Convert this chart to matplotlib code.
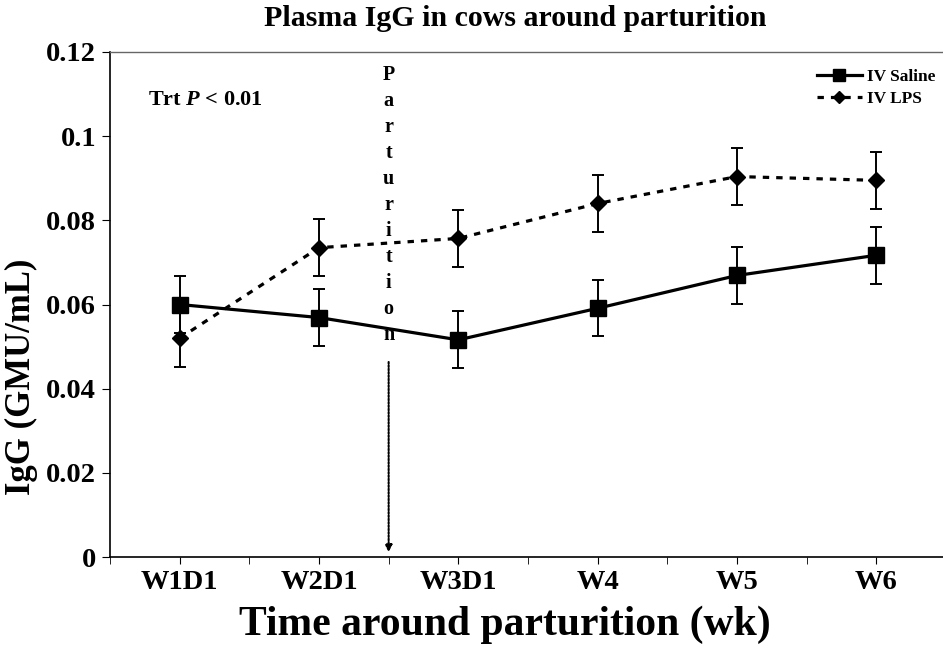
import matplotlib
matplotlib.use("Agg")
import matplotlib.pyplot as plt
from matplotlib import rcParams
from matplotlib.lines import Line2D

rcParams['font.family'] = ['Liberation Serif', 'DejaVu Serif']
rcParams['font.weight'] = 'bold'
rcParams['mathtext.fontset'] = 'custom'
rcParams['mathtext.rm'] = 'Liberation Serif:bold'
rcParams['mathtext.it'] = 'Liberation Serif:italic:bold'
rcParams['mathtext.bf'] = 'Liberation Serif:bold'

# data
weeks = ['W1D1', 'W2D1', 'W3D1', 'W4', 'W5', 'W6']
saline = [0.0600, 0.0569, 0.0516, 0.0591, 0.0669, 0.0717]
saline_se = [0.0068, 0.0067, 0.0068, 0.0067, 0.0068, 0.0068]
lps = [0.0520, 0.0735, 0.0757, 0.0840, 0.0904, 0.0895]
lps_se = [0.0068, 0.0067, 0.0067, 0.0068, 0.0068, 0.0068]
parturition_x = 1.5

x = list(range(len(weeks)))

fig = plt.figure(figsize=(9.43, 6.45), dpi=100)
ax = fig.add_axes([0.1166, 0.1364, 0.8866, 0.783])

ax.errorbar(x, saline, yerr=saline_se, fmt='none', ecolor='black',
            capsize=4.5, elinewidth=1.4, capthick=1.4, zorder=2)
ax.errorbar(x, lps, yerr=lps_se, fmt='none', ecolor='black',
            capsize=4.5, elinewidth=1.4, capthick=1.4, zorder=2)
ax.plot(x, saline, color='black', lw=2.3, marker='s', markersize=11.5, zorder=3)
ax.plot(x, lps, color='black', lw=2.3, ls=(0, (2, 2.2)), marker='D',
        markersize=8.5, zorder=3)

# parturition marker
ax.text(parturition_x, 0.1168, '\n'.join('Parturition'),
        ha='center', va='top', fontsize=14.5, fontweight='bold', linespacing=1.40)
ax.annotate('', xy=(parturition_x, 0.0005), xytext=(parturition_x, 0.047),
            arrowprops=dict(arrowstyle='-|>', ls=(0, (0.8, 0.8)), lw=1.5,
                            color='black', mutation_scale=10))

ax.text(0.045, 0.905, r'Trt $\mathit{P}$ < 0.01', transform=ax.transAxes,
        fontsize=16, fontweight='bold', va='center')

ax.set_xlim(-0.5, 5.45)
ax.set_ylim(0, 0.12)
ax.set_xticks(x)
ax.set_xticklabels(weeks, fontsize=20.5, fontweight='bold')
ax.set_xticks([i + 0.5 for i in range(-1, 6)], minor=True)
ax.tick_params(axis='x', which='both', length=5, direction='out', pad=4)
ax.set_yticks([0, 0.02, 0.04, 0.06, 0.08, 0.1, 0.12])
ax.set_yticklabels(['0', '0.02', '0.04', '0.06', '0.08', '0.1', '0.12'],
                   fontsize=20.5, fontweight='bold')
ax.tick_params(axis='y', length=6, direction='out', pad=4)

ax.spines['right'].set_visible(False)
ax.spines['top'].set_color('#666666')
ax.spines['top'].set_linewidth(1.0)
ax.spines['left'].set_linewidth(1.2)
ax.spines['bottom'].set_linewidth(1.2)

fig.text(505 / 943, 1 - 625 / 645, 'Time around parturition (wk)',
         fontsize=30, fontweight='bold', ha='center', va='center')
fig.text(21 / 943, 1 - 377 / 645, 'IgG (GMU/mL)', rotation=90,
         fontsize=25, fontweight='bold', ha='center', va='center')
fig.text(515 / 943, 1 - 18 / 645, 'Plasma IgG in cows around parturition',
         fontsize=21.5, fontweight='bold', ha='center', va='center')

handles = [
    Line2D([], [], color='black', lw=2.3, marker='s', markersize=8),
    Line2D([], [], color='black', lw=2.3, ls=(0, (2, 2.2)), marker='D',
           markersize=6),
]
ax.legend(handles, ['IV Saline', 'IV LPS'], loc='upper right',
          bbox_to_anchor=(1.0, 0.988), frameon=False,
          prop={'size': 12.5, 'weight': 'bold'}, handlelength=2.6,
          handletextpad=0.3, labelspacing=0.35, borderaxespad=0.2)

fig.savefig('out.png', dpi=100)
